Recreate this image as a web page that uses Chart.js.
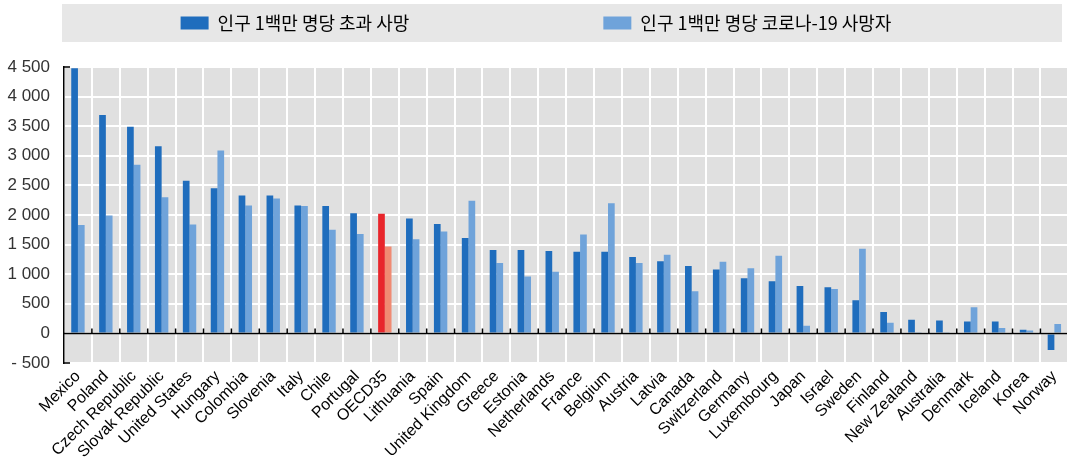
<!DOCTYPE html>
<html>
<head>
<meta charset="utf-8">
<script src="https://cdn.jsdelivr.net/npm/chart.js@4.4.1/dist/chart.umd.min.js"></script>
<style>
html, body { margin: 0; padding: 0; background: #ffffff; overflow: hidden; }
#wrap { width: 1067px; height: 461px; overflow: hidden; position: relative; }
canvas { display: block; }
</style>
</head>
<body>
<div id="wrap"><canvas id="chart" width="1072" height="461" style="width:1072px;height:461px"></canvas></div>
<script>
// ---- data ----
const categories = ['Mexico','Poland','Czech Republic','Slovak Republic','United States','Hungary','Colombia','Slovenia','Italy','Chile','Portugal','OECD35','Lithuania','Spain','United Kingdom','Greece','Estonia','Netherlands','France','Belgium','Austria','Latvia','Canada','Switzerland','Germany','Luxembourg','Japan','Israel','Sweden','Finland','New Zealand','Australia','Denmark','Iceland','Korea','Norway'];
const excessDeaths = [4480,3690,3490,3160,2580,2450,2330,2330,2160,2150,2030,2020,1940,1850,1610,1410,1410,1390,1380,1380,1290,1220,1140,1080,930,880,800,780,560,360,230,220,200,200,60,-280];
const covidDeaths = [1830,1990,2850,2300,1840,3090,2160,2280,2150,1750,1680,1470,1590,1720,2240,1190,960,1040,1670,2200,1190,1330,710,1210,1100,1310,130,750,1430,180,10,20,440,90,50,160];
const seriesNames = ['인구 1백만 명당 초과 사망', '인구 1백만 명당 코로나-19 사망자'];
const yTicks = [-500, 0, 500, 1000, 1500, 2000, 2500, 3000, 3500, 4000, 4500];
const highlightCategory = 'OECD35';

// ---- styles ----
const DARK = '#1f6dbd', LIGHT = '#6fa3da', RED = '#e8252b', SALMON = '#f08a72';
const PLOT_BG = '#e0e0e0', LEGEND_BG = '#e7e7e7';
const LEGEND_FONT = { family: "'Noto Sans CJK KR', 'Noto Sans', sans-serif", size: 18 };

function fmt(v) {
  const a = Math.abs(v).toString().replace(/\B(?=(\d{3})+(?!\d))/g, ' ');
  return v < 0 ? '- ' + a : a;
}

// pad legend label widths so items sit where the reference places them
const mctx = document.createElement('canvas').getContext('2d');
mctx.font = LEGEND_FONT.size + 'px ' + LEGEND_FONT.family;
function padTo(text, target) {
  let t = text;
  while (mctx.measureText(t + '\u3000').width <= target) t += '\u3000';
  while (mctx.measureText(t + ' ').width <= target) t += ' ';
  return t;
}

const bgPlugin = {
  id: 'bgPlugin',
  beforeDraw(chart) {
    const { ctx, chartArea: a, legend } = chart;
    ctx.save();
    ctx.fillStyle = LEGEND_BG;
    ctx.fillRect(a.left - 2, legend.top, chart.width - 10 - (a.left - 2), legend.bottom - legend.top);
    ctx.fillStyle = PLOT_BG;
    ctx.fillRect(a.left, a.top, a.right - a.left, a.bottom - a.top);
    ctx.restore();
  },
  afterDatasetsDraw(chart) {
    const { ctx, scales: { x, y } } = chart;
    const y0 = y.getPixelForValue(0);
    ctx.save();
    ctx.strokeStyle = '#000';
    ctx.lineWidth = 1.5;
    ctx.beginPath();
    ctx.moveTo(x.left, y0); ctx.lineTo(x.right, y0);
    for (let i = 1; i < categories.length; i++) {
      const bx = (x.getPixelForValue(i - 1) + x.getPixelForValue(i)) / 2;
      ctx.moveTo(bx, y0); ctx.lineTo(bx, y0 - 5);
    }
    const yt = y.getPixelForValue(yTicks[yTicks.length - 1]);
    const yb = y.getPixelForValue(yTicks[0]);
    ctx.moveTo(x.left, yt); ctx.lineTo(x.left + 6, yt);
    ctx.moveTo(x.left, yb); ctx.lineTo(x.left + 6, yb);
    ctx.stroke();
    ctx.restore();
  }
};

const colorFor = (base, hi) => (c) => categories[c.dataIndex] === highlightCategory ? hi : base;

new Chart(document.getElementById('chart'), {
  type: 'bar',
  data: {
    labels: categories,
    datasets: [
      { label: seriesNames[0], data: excessDeaths, backgroundColor: colorFor(DARK, RED), xAxisID: 'x', yAxisID: 'y' },
      { label: seriesNames[1], data: covidDeaths, backgroundColor: colorFor(LIGHT, SALMON), xAxisID: 'x', yAxisID: 'y' }
    ]
  },
  options: {
    responsive: false,
    devicePixelRatio: 1,
    animation: false,
    layout: { padding: { top: 4, left: 0, right: 0, bottom: 0 } },
    datasets: { bar: { categoryPercentage: 0.48, barPercentage: 1.0 } },
    plugins: {
      tooltip: { enabled: false },
      legend: {
        position: 'top',
        labels: {
          boxWidth: 28,
          boxHeight: 13,
          padding: 10,
          color: '#333',
          font: LEGEND_FONT,
          generateLabels(chart) {
            const texts = [padTo(seriesNames[0], 415 - 28 - LEGEND_FONT.size / 2),
                           padTo(seriesNames[1], 287 - 28 - LEGEND_FONT.size / 2)];
            return chart.data.datasets.map((ds, i) => ({
              text: texts[i],
              fillStyle: i === 0 ? DARK : LIGHT,
              strokeStyle: i === 0 ? DARK : LIGHT,
              lineWidth: 0,
              hidden: false,
              datasetIndex: i
            }));
          }
        }
      }
    },
    scales: {
      x: {
        type: 'category',
        position: 'bottom',
        offset: true,
        grid: { display: true, offset: true, color: '#ffffff', lineWidth: 2, drawTicks: false },
        border: { display: false },
        ticks: {
          autoSkip: false,
          maxRotation: 45,
          minRotation: 45,
          padding: 4,
          color: '#000',
          font: { family: "'Liberation Sans', Arial, sans-serif", size: 16 }
        },
        afterFit(s) { s.height = 98; }
      },
      xTop: {
        type: 'linear',
        position: 'top',
        min: 0, max: 1,
        display: true,
        grid: { display: false, drawTicks: false },
        border: { display: false },
        ticks: { display: false },
        afterFit(s) { s.height = 25; }
      },
      y: {
        type: 'linear',
        min: yTicks[0],
        max: yTicks[yTicks.length - 1],
        afterBuildTicks(s) { s.ticks = yTicks.map(v => ({ value: v })); },
        grid: {
          color: '#ffffff',
          lineWidth: 2,
          drawTicks: false
        },
        border: { display: true, color: '#000', width: 1.5 },
        ticks: {
          padding: 14,
          color: '#333',
          font: { family: "'Liberation Sans', Arial, sans-serif", size: 17 },
          callback: (v) => fmt(v)
        },
        afterFit(s) { s.width = 64; }
      }
    }
  },
  plugins: [bgPlugin]
});
</script>
</body>
</html>
